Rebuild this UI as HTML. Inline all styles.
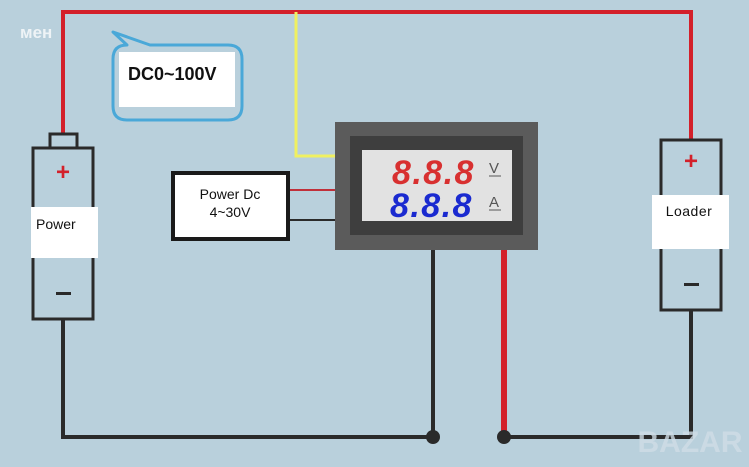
<!DOCTYPE html>
<html><head><meta charset="utf-8"><style>
html,body{margin:0;padding:0;background:#b9d0dc;}
svg{display:block}
text{font-family:"Liberation Sans",sans-serif;}
</style></head><body>
<svg width="749" height="467" viewBox="0 0 749 467" xmlns="http://www.w3.org/2000/svg">
<rect width="749" height="467" fill="#b9d0dc"/>
<text x="20" y="38" font-size="17" font-weight="bold" fill="#eef3f6">мен</text>
<!-- wires -->
<polyline points="63,133 63,12 691,12 691,139" fill="none" stroke="#d3202a" stroke-width="4"/>
<polyline points="296,12 296,156 336,156" fill="none" stroke="#f0f060" stroke-width="3"/>
<polyline points="63,319 63,437 433,437 433,250" fill="none" stroke="#2a2a2a" stroke-width="4"/>
<line x1="504" y1="250" x2="504" y2="437" stroke="#d3202a" stroke-width="6"/>
<polyline points="504,437 691,437 691,310" fill="none" stroke="#2a2a2a" stroke-width="4"/>
<circle cx="433" cy="437" r="7" fill="#2a2a2a"/>
<circle cx="504" cy="437" r="7" fill="#2a2a2a"/>
<line x1="289" y1="190" x2="336" y2="190" stroke="#c0303a" stroke-width="2"/>
<line x1="289" y1="220" x2="336" y2="220" stroke="#2a2a2a" stroke-width="2"/>
<!-- bubble -->
<path d="M127,45 L113,32 L150,45 L228,45 Q242,45 242,59 L242,106 Q242,120 228,120 L127,120 Q113,120 113,106 L113,59 Q113,45 127,45 Z" fill="#b9d0dc" stroke="#4aa8d8" stroke-width="3" stroke-linejoin="round"/>
<rect x="119" y="52" width="116" height="55" fill="#fff"/>
<text x="128" y="80" font-size="18" font-weight="bold" fill="#111">DC0~100V</text>
<!-- battery -->
<rect x="50" y="134" width="27" height="14" fill="#b9d0dc" stroke="#2a2a2a" stroke-width="3"/>
<rect x="33" y="148" width="60" height="171" fill="#b9d0dc" stroke="#2a2a2a" stroke-width="3"/>
<text x="63" y="180" font-size="24" font-weight="bold" fill="#d3202a" text-anchor="middle">+</text>
<rect x="56" y="292" width="15" height="3" fill="#2a2a2a"/>
<rect x="31" y="207" width="67" height="51" fill="#fff"/>
<text x="36" y="229" font-size="14" fill="#111">Power</text>
<!-- power dc -->
<rect x="173" y="173" width="115" height="66" fill="#fff" stroke="#1a1a1a" stroke-width="4"/>
<text x="230" y="199" font-size="14" fill="#111" text-anchor="middle">Power Dc</text>
<text x="230" y="217" font-size="14" fill="#111" text-anchor="middle">4~30V</text>
<!-- meter -->
<rect x="335" y="122" width="203" height="128" fill="#5b5b5b"/>
<rect x="350" y="136" width="173" height="99" fill="#3e3e3e"/>
<rect x="362" y="150" width="150" height="71" fill="#e2e2e2"/>
<text x="392" y="184" font-size="34" font-style="italic" font-weight="bold" font-family="Liberation Mono,monospace" fill="#d83030" letter-spacing="-4">8 . 8 . 8</text>
<text x="390" y="217" font-size="34" font-style="italic" font-weight="bold" font-family="Liberation Mono,monospace" fill="#1a2ad0" letter-spacing="-4">8 . 8 . 8</text>
<text x="489" y="173" font-size="15" fill="#555">V</text>
<line x1="489" y1="176" x2="501" y2="176" stroke="#555" stroke-width="1"/>
<text x="489" y="207" font-size="15" fill="#555">A</text>
<line x1="489" y1="210" x2="501" y2="210" stroke="#555" stroke-width="1"/>
<!-- loader -->
<rect x="661" y="140" width="60" height="170" fill="#b9d0dc" stroke="#2a2a2a" stroke-width="3"/>
<text x="691" y="169" font-size="24" font-weight="bold" fill="#d3202a" text-anchor="middle">+</text>
<rect x="684" y="283" width="15" height="3" fill="#2a2a2a"/>
<rect x="652" y="195" width="77" height="54" fill="#fff"/>
<text x="689" y="216" font-size="14" fill="#111" text-anchor="middle" letter-spacing="0.5">Loader</text>
<!-- watermark -->
<text x="690" y="452" font-size="30" font-weight="bold" fill="#d0dde6" opacity="0.8" text-anchor="middle">BAZAR</text>
</svg>
</body></html>
